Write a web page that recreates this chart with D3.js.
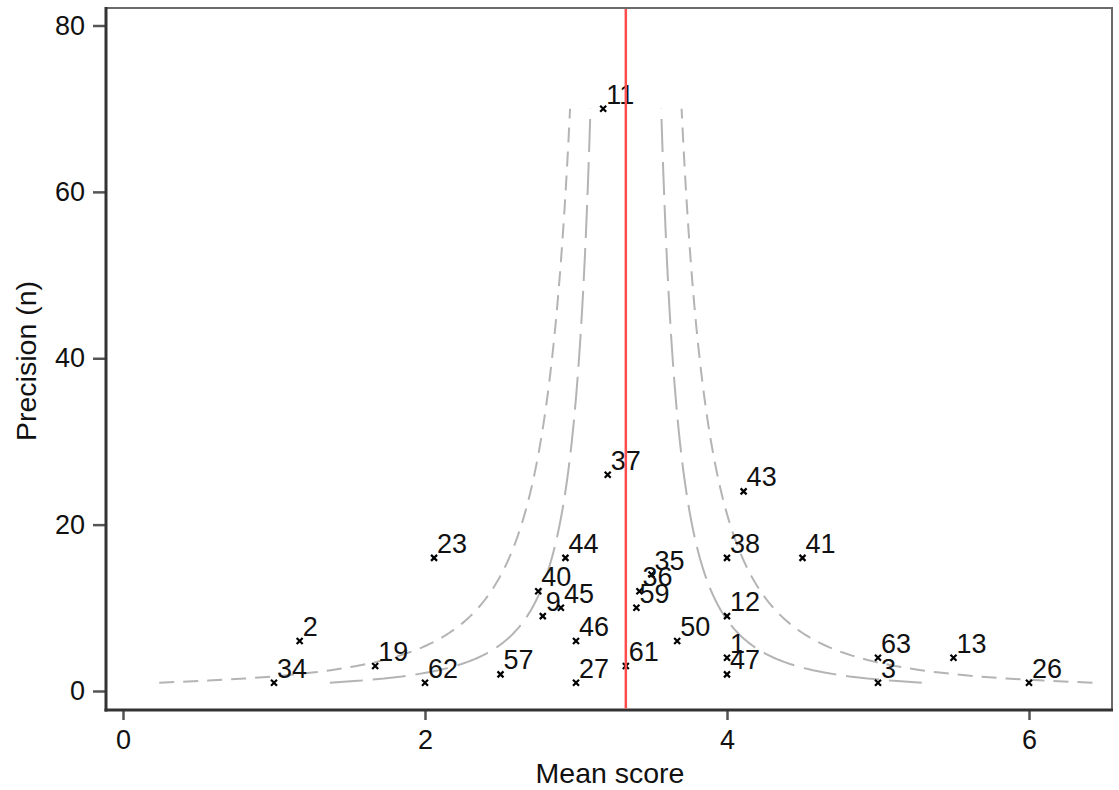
<!DOCTYPE html>
<html>
<head>
<meta charset="utf-8">
<script src="https://cdn.jsdelivr.net/npm/d3@7"></script>
<style>
  html, body { margin: 0; padding: 0; background: #fff; }
  svg { display: block; font-family: "Liberation Sans", Arial, Helvetica, sans-serif; }
</style>
</head>
<body>
<svg id="chart" width="1119" height="790"></svg>
<script>
// ---- data ----
const unitIds   = [11, 34, 2, 19, 23, 62, 57, 27, 46, 44, 40, 9, 45, 61, 37, 43, 38, 41, 35, 36, 59, 50, 12, 1, 47, 63, 3, 13, 26];
const meanScore = [3.18, 1.0, 1.17, 1.67, 2.06, 2.0, 2.5, 3.0, 3.0, 2.93, 2.75, 2.78, 2.9, 3.33, 3.21, 4.11, 4.0, 4.5, 3.5, 3.42, 3.4, 3.67, 4.0, 4.0, 4.0, 5.0, 5.0, 5.5, 6.0];
const precision = [70, 1, 6, 3, 16, 1, 2, 1, 6, 16, 12, 9, 10, 3, 26, 24, 16, 16, 14, 12, 10, 6, 9, 4, 2, 4, 1, 4, 1];
const overallMean = 3.33;
const scoreSD = 1.0;
const limitZ = [1.96, 3.09];          // inner (95%), outer (99.8%)
const funnelNMin = 1, funnelNMax = 70;
const xTicks = [0, 2, 4, 6];
const yTicks = [0, 20, 40, 60, 80];
const xTitle = "Mean score";
const yTitle = "Precision (n)";

// ---- layout ----
const svg = d3.select("#chart");
const plot = { left: 106, right: 1112, top: 8, bottom: 710 };
const x = d3.scaleLinear().domain([0, 6]).range([123, 1029]);
const y = d3.scaleLinear().domain([0, 80]).range([691, 25.5]);

// frame
svg.append("rect")
  .attr("x", plot.left).attr("y", plot.top)
  .attr("width", plot.right - plot.left).attr("height", plot.bottom - plot.top)
  .attr("fill", "#fff").attr("stroke", "#6a6a6a").attr("stroke-width", 2);

// funnel limits
const nVals = d3.range(funnelNMin, funnelNMax + 0.001, 0.25);
const line = d3.line().x(d => x(d[0])).y(d => y(d[1])).curve(d3.curveLinear);
const styles = [
  { dash: "33,10" },
  { dash: "15,9" }
];
limitZ.forEach((z, i) => {
  [-1, 1].forEach(sign => {
    const pts = nVals.map(n => [overallMean + sign * z * scoreSD / Math.sqrt(n), n]);
    svg.append("path")
      .attr("d", line(pts))
      .attr("fill", "none")
      .attr("stroke", "#b4b4b4")
      .attr("stroke-width", 2)
      .attr("stroke-dasharray", styles[i].dash);
  });
});

// points
const pts = unitIds.map((id, i) => ({ id, m: meanScore[i], n: precision[i] }));
const g = svg.append("g");
const s = 3;
pts.forEach(p => {
  const cx = x(p.m), cy = y(p.n);
  g.append("path")
    .attr("d", `M${cx - s},${cy - s}L${cx + s},${cy + s}M${cx - s},${cy + s}L${cx + s},${cy - s}`)
    .attr("stroke", "#000").attr("stroke-width", 2.2);
  g.append("text")
    .attr("x", cx + 3).attr("y", cy - 5)
    .attr("font-size", 27).attr("fill", "#111")
    .text(p.id);
});

// axes
const yAxis = d3.axisLeft(y).tickValues(yTicks).tickFormat(d3.format("d"))
  .tickSize(12).tickSizeOuter(0).tickPadding(8);
const gy = svg.append("g").attr("transform", `translate(${plot.left - 1},0)`).call(yAxis);
const xAxis = d3.axisBottom(x).tickValues(xTicks).tickFormat(d3.format("d"))
  .tickSize(10).tickSizeOuter(0).tickPadding(10);
const gx = svg.append("g").attr("transform", `translate(0,${plot.bottom})`).call(xAxis);
[gx, gy].forEach(a => {
  a.select(".domain").remove();
  a.selectAll(".tick line").attr("stroke", "#555").attr("stroke-width", 2.5);
  a.selectAll(".tick text").attr("font-size", 27).attr("fill", "#111")
    .attr("font-family", "'Liberation Sans', Arial, sans-serif");
});

// axis lines
svg.append("line").attr("x1", plot.left).attr("x2", plot.left)
  .attr("y1", plot.top - 1).attr("y2", plot.bottom + 1.5)
  .attr("stroke", "#333").attr("stroke-width", 3);
svg.append("line").attr("x1", plot.left - 1.5).attr("x2", plot.right + 1)
  .attr("y1", plot.bottom).attr("y2", plot.bottom)
  .attr("stroke", "#333").attr("stroke-width", 3);

// mean line
svg.append("line")
  .attr("x1", x(overallMean)).attr("x2", x(overallMean))
  .attr("y1", plot.top + 1).attr("y2", plot.bottom - 1.5)
  .attr("stroke", "#ff4d4d").attr("stroke-width", 2.5);

// titles
svg.append("text").attr("x", (plot.left + plot.right) / 2 + 1).attr("y", 783)
  .attr("text-anchor", "middle").attr("font-size", 28.5).attr("fill", "#111").text(xTitle);
svg.append("text").attr("transform", `translate(36,${(plot.top + plot.bottom) / 2 + 2}) rotate(-90)`)
  .attr("text-anchor", "middle").attr("font-size", 28.5).attr("fill", "#111").text(yTitle);
</script>
</body>
</html>
